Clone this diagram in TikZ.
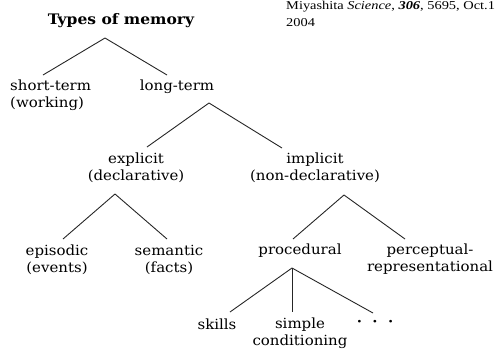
\documentclass[tikz,border=0pt]{standalone}
\usepackage{fontspec}
\setmainfont{DejaVu Serif}[FakeStretch=1.07]
\newfontfamily\citefont{Liberation Serif}[FakeStretch=1.2]
\usepackage{tikz}
\pgfdeclarelayer{bg}
\pgfsetlayers{bg,main}

\begin{document}
\begin{tikzpicture}[x=1pt,y=-1pt,
    every node/.style={inner sep=0pt,align=center,text=black,font=\fontsize{14}{17}\selectfont},
    branch/.style={line width=0.9pt,draw=black!85}]
        \useasboundingbox (0,0) rectangle (500,349);
        \node (n0) at (121,21) {\fontsize{14.5}{18}\selectfont\bfseries Types of memory};
        \node (n1) [anchor=west,align=left] at (10,95) {short-term\\(working)};
        \node (n2) at (177,87) {long-term};
        \node (n3) at (136,168) {explicit\\(declarative)};
        \node (n4) at (315,168) {implicit\\(non-declarative)};
        \node (n5) at (57,259.5) {episodic\\(events)};
        \node (n6) at (169,259.5) {semantic\\(facts)};
        \node (n7) at (300,251) {procedural};
        \node (n8) at (430,259.5) {perceptual-\\representational};
        \node (n9) at (217,324) {skills};
        \node (n10) at (300,333) {simple\\conditioning};
        \node (n11) at (375,323) {\bfseries ·\ \ ·\ \ ·};
        \node (n12) [anchor=north west,align=left,font=\citefont\fontsize{12}{17}\selectfont] at (286,1)
            {Miyashita \textit{Science}, \textbf{\textit{306}}, 5695, Oct.1\\2004};
        % branch points
        \coordinate (c0) at (105,38);
        \coordinate (c1) at (43,75);
        \coordinate (c2) at (167,75);
        \coordinate (c3) at (209,103);
        \coordinate (c4) at (147,147);
        \coordinate (c5) at (282,148);
        \coordinate (c6) at (115,194);
        \coordinate (c7) at (63,239);
        \coordinate (c8) at (167,239);
        \coordinate (c9) at (344,195);
        \coordinate (c10) at (293,239);
        \coordinate (c11) at (405,239);
        \coordinate (c12) at (292,268);
        \coordinate (c13) at (230,312);
        \coordinate (c14) at (292,312);
        \coordinate (c15) at (373,313);
        \begin{pgfonlayer}{bg}
                \draw (c0) edge [branch] (c1);
                \draw (c0) edge [branch] (c2);
                \draw (c3) edge [branch] (c4);
                \draw (c3) edge [branch] (c5);
                \draw (c6) edge [branch] (c7);
                \draw (c6) edge [branch] (c8);
                \draw (c9) edge [branch] (c10);
                \draw (c9) edge [branch] (c11);
                \draw (c12) edge [branch] (c13);
                \draw (c12) edge [branch] (c14);
                \draw (c12) edge [branch] (c15);
        \end{pgfonlayer}
\end{tikzpicture}
\end{document}
